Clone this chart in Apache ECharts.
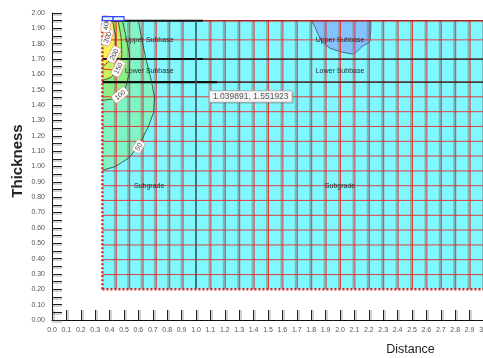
<!DOCTYPE html>
<html>
<head>
<meta charset="utf-8">
<script src="https://cdn.jsdelivr.net/npm/echarts@6/dist/echarts.min.js"></script>
<style>
  html, body { margin: 0; padding: 0; background: #fff; }
  #chart { width: 483px; height: 358px; }
</style>
</head>
<body>
<div id="chart"></div>
<script>
// Finite-element mesh: node columns (Distance) and node rows (Thickness)
const meshX = [0.35, 0.443, 0.536, 0.629, 0.721, 0.814, 0.907, 1.0, 1.1, 1.2, 1.3, 1.4, 1.5,
               1.6, 1.7, 1.8, 1.9, 2.0, 2.1, 2.2, 2.3, 2.4, 2.5, 2.6, 2.7, 2.8, 2.9, 3.0];
const meshY = [0.2, 0.296, 0.393, 0.489, 0.586, 0.682, 0.779, 0.875, 0.971, 1.068, 1.164,
               1.261, 1.357, 1.454, 1.55, 1.70, 1.825, 1.95];
// extra row of nodes in the lower subbase next to the load
const lowerSubbaseRow = [[0.35, 1.635], [0.47, 1.625]];

// Pavement layers
const layerNames  = ['Upper Subbase', 'Lower Subbase', 'Subgrade'];
const layerTop    = [1.95, 1.70, 1.55];
const layerBottom = [1.70, 1.55, 0.20];
const columnEdges = [0.35, 1.0, 3.0];

// Stress contours (each runs from the surface down to the left boundary)
const contourLevels = [50, 100, 150, 200, 300, 400];
const contour50  = [[0.60, 1.95], [0.625, 1.82], [0.655, 1.69], [0.69, 1.56], [0.712, 1.45], [0.705, 1.35],
                    [0.669, 1.26], [0.60, 1.13], [0.53, 1.053], [0.44, 1.0], [0.35, 0.975]];
const contour100 = [[0.49, 1.95], [0.515, 1.84], [0.54, 1.72], [0.535, 1.60], [0.51, 1.51],
                    [0.472, 1.466], [0.42, 1.44], [0.35, 1.43]];
const contour150 = [[0.46, 1.95], [0.48, 1.84], [0.485, 1.72], [0.46, 1.64], [0.41, 1.58], [0.35, 1.56]];
const contour200 = [[0.42, 1.95], [0.442, 1.85], [0.44, 1.77], [0.43, 1.73], [0.39, 1.68], [0.35, 1.65]];
const contour300 = [[0.385, 1.95], [0.392, 1.88], [0.384, 1.842], [0.37, 1.815], [0.35, 1.80]];
const contour400 = [[0.368, 1.95], [0.375, 1.928], [0.362, 1.905], [0.35, 1.895]];
const contours = [contour50, contour100, contour150, contour200, contour300, contour400];
const contourLabelAt = [[0.60, 1.13], [0.472, 1.466], [0.46, 1.64], [0.43, 1.73], [0.384, 1.842], [0.375, 1.928]];

// Low-stress pocket in the upper subbase
const upperPocket = [[1.803, 1.95], [1.826, 1.911], [1.849, 1.857], [1.884, 1.803], [1.931, 1.770],
                     [2.0, 1.748], [2.092, 1.731], [2.116, 1.748], [2.151, 1.780], [2.208, 1.813],
                     [2.213, 1.889], [2.215, 1.95]];

// Loaded strip on the surface
const loadStrips = [[0.35, 0.425], [0.425, 0.5]];

// Cursor readout
const cursorPoint = [1.039891, 1.551923];

const bandColors = ['#80f4c4', '#8cee86', '#c8f062', '#f4f45c', '#ffffc4', '#fffff0'];
const FONT = '"Liberation Sans", Arial, sans-serif';

function drawModel(params, api) {
  const c = p => api.coord(p);
  const kids = [];
  const seg = (a, b, style, dx) => {
    const p = c(a), q = c(b); dx = dx || 0;
    return { type: 'line', shape: { x1: p[0] + dx, y1: p[1], x2: q[0] + dx, y2: q[1] }, style: style };
  };
  const x0 = columnEdges[0], x1 = columnEdges[columnEdges.length - 1];
  const yBot = layerBottom[layerBottom.length - 1], yTop = layerTop[0];

  // model body
  kids.push({ type: 'polygon', shape: { points: [[x0, yBot], [x1, yBot], [x1, yTop], [x0, yTop]].map(c) },
              style: { fill: '#7ff9ff' } });
  // pocket in the upper subbase
  kids.push({ type: 'polygon', shape: { points: upperPocket.map(c) },
              style: { fill: '#82c2ff', stroke: '#3a4a70', lineWidth: 0.8 } });
  // contour bands, outermost first
  contours.forEach((pts, i) => {
    kids.push({ type: 'polygon', shape: { points: pts.concat([[x0, yTop]]).map(c) },
                style: { fill: bandColors[i] } });
  });

  // deformed mesh (grey) and undeformed mesh (red)
  meshX.forEach(x => {
    if (x === x0 || x === columnEdges[1]) return;
    kids.push(seg([x, yBot], [x, yTop], { stroke: 'rgba(120,120,120,0.5)', lineWidth: 2 }, -1));
  });
  meshX.forEach(x => {
    if (x === x0 || x === columnEdges[1]) return;
    kids.push(seg([x, yBot], [x, yTop], { stroke: 'rgba(238,40,40,0.9)', lineWidth: 1 }, 0.5));
  });
  meshY.forEach(y => {
    if (y === yBot) return;
    kids.push(seg([x0, y], [x1, y], { stroke: 'rgba(238,40,40,0.9)', lineWidth: 1 }));
  });
  kids.push(seg(lowerSubbaseRow[0], lowerSubbaseRow[1], { stroke: 'rgba(238,40,40,0.9)', lineWidth: 1 }));

  // layer and column boundaries
  kids.push(seg([x0, yTop], [1.05, yTop], { stroke: '#111', lineWidth: 2 }));
  kids.push(seg([1.05, yTop], [x1, yTop], { stroke: '#b82424', lineWidth: 1.5 }));
  kids.push(seg([x0, layerTop[1]], [1.05, layerTop[1]], { stroke: '#111', lineWidth: 2 }));
  kids.push(seg([1.05, layerTop[1]], [x1, layerTop[1]], { stroke: '#222', lineWidth: 1.2 }));
  kids.push(seg([x0, layerTop[2]], [1.15, layerTop[2]], { stroke: '#111', lineWidth: 2.2 }));
  kids.push(seg([1.15, layerTop[2]], [x1, layerTop[2]], { stroke: '#222', lineWidth: 1.2 }));
  kids.push(seg([columnEdges[1], yBot], [columnEdges[1], yTop], { stroke: '#3c5656', lineWidth: 1.6 }));

  // contour lines
  contours.forEach(pts => {
    kids.push({ type: 'polyline', shape: { points: pts.map(c) },
                style: { stroke: '#2a3a2a', lineWidth: 0.8, fill: null } });
  });

  // fixed boundary nodes
  kids.push(seg([x0, yBot], [x1, yBot], { stroke: '#e02424', lineWidth: 2.5, lineDash: [2, 2] }));
  kids.push(seg([x0, yBot], [x0, yTop], { stroke: '#e02424', lineWidth: 2.5, lineDash: [2, 2] }));

  // contour value labels, rotated along the line
  contours.forEach((pts, i) => {
    const at = contourLabelAt[i];
    let k = 0, best = Infinity;
    pts.forEach((p, j) => { const d = Math.hypot(p[0] - at[0], p[1] - at[1]); if (d < best) { best = d; k = j; } });
    const a = c(pts[Math.max(0, k - 1)]), b = c(pts[Math.min(pts.length - 1, k + 1)]);
    let ang = Math.atan2(-(b[1] - a[1]), b[0] - a[0]);
    if (ang > Math.PI / 2) ang -= Math.PI;
    if (ang < -Math.PI / 2) ang += Math.PI;
    const p = c(at);
    const txt = String(contourLevels[i]);
    const w = txt.length * 4.2 + 4;
    kids.push({
      type: 'group', x: p[0], y: p[1], rotation: ang,
      children: [
        { type: 'rect', shape: { x: -w / 2, y: -4.5, width: w, height: 9, r: 2 },
          style: { fill: '#ffffff', stroke: 'rgba(230,110,110,0.6)', lineWidth: 0.8 } },
        { type: 'text', style: { text: txt, x: 0, y: 0.5, align: 'center', verticalAlign: 'middle',
                                 fontSize: 7, fontFamily: FONT, fill: '#444' } }
      ]
    });
  });

  // layer names in the middle of each column
  for (let col = 0; col < columnEdges.length - 1; col++) {
    const xm = (columnEdges[col] + columnEdges[col + 1]) / 2;
    layerNames.forEach((name, i) => {
      const p = c([xm, (layerTop[i] + layerBottom[i]) / 2]);
      kids.push({ type: 'text', style: { text: name, x: p[0], y: p[1], align: 'center', verticalAlign: 'middle',
                                         fontSize: 7, fontFamily: FONT, fill: '#2a2a2a' } });
    });
  }

  // loaded strip above the surface
  loadStrips.forEach(s => {
    const a = c([s[0], yTop]), b = c([s[1], yTop]);
    kids.push({ type: 'rect', shape: { x: a[0], y: a[1] - 4, width: b[0] - a[0], height: 4 },
                style: { fill: '#eef0ff', stroke: '#3048ff', lineWidth: 1.2 } });
  });

  // cursor readout next to the picked point
  const pick = c(cursorPoint);
  const readout = cursorPoint.map(v => v.toFixed(6)).join(', ');
  kids.push({
    type: 'group', x: pick[0] + 7.5, y: pick[1] + 9,
    children: [
      { type: 'rect', shape: { x: 1.5, y: 1.5, width: 83, height: 11.5, r: 1 },
        style: { fill: 'rgba(0,0,0,0.16)' } },
      { type: 'rect', shape: { x: 0, y: 0, width: 83, height: 11.5, r: 1 },
        style: { fill: '#f6f6f6', stroke: '#9a9a9a', lineWidth: 0.8 } },
      { type: 'text', style: { text: readout, x: 41.5, y: 6, align: 'center', verticalAlign: 'middle',
                               fontSize: 8.5, fontFamily: FONT, fill: '#555' } }
    ]
  });

  return { type: 'group', children: kids };
}

const chart = echarts.init(document.getElementById('chart'), null, { renderer: 'canvas' });
chart.setOption({
  animation: false,
  backgroundColor: '#ffffff',
  grid: { left: 52, top: 13, width: 432, height: 307, containLabel: false, outerBoundsMode: 'none' },
  xAxis: {
    type: 'value', min: 0, max: 3, interval: 0.1,
    axisLine: { show: true, onZero: false, lineStyle: { color: '#111', width: 1 } },
    axisTick: { show: true, inside: true, length: 10,
                lineStyle: { color: '#222', width: 1, shadowColor: 'rgba(0,0,0,0.35)', shadowOffsetX: 1.5, shadowBlur: 0 } },
    axisLabel: { show: true, margin: 7, fontSize: 7, fontFamily: FONT, color: '#555',
                 formatter: v => v.toFixed(1), showMaxLabel: true, showMinLabel: true, hideOverlap: false },
    splitLine: { show: false }
  },
  yAxis: {
    type: 'value', min: 0, max: 2, interval: 0.1,
    axisLine: { show: true, onZero: false, lineStyle: { color: '#111', width: 1 } },
    axisTick: { show: true, inside: true, length: 10,
                lineStyle: { color: '#222', width: 1, shadowColor: 'rgba(0,0,0,0.35)', shadowOffsetY: 1.5, shadowBlur: 0 } },
    minorTick: { show: true, splitNumber: 2, length: 10,
                 lineStyle: { color: '#222', width: 1, shadowColor: 'rgba(0,0,0,0.35)', shadowOffsetY: 1.5, shadowBlur: 0 } },
    axisLabel: { show: true, margin: 7, fontSize: 7, fontFamily: FONT, color: '#555',
                 formatter: v => v.toFixed(2), hideOverlap: false },
    splitLine: { show: false }
  },
  series: [{
    type: 'custom', renderItem: drawModel, data: [[0, 0]], silent: true, clip: false
  }],
  graphic: [
    { id: 'yTitle', type: 'text', x: 18, y: 161, rotation: Math.PI / 2,
      style: { text: 'Thickness', align: 'center', verticalAlign: 'middle',
               fontSize: 15, fontWeight: 'bold', fontFamily: FONT, fill: '#222' } },
    { id: 'xTitle', type: 'text', x: 410.5, y: 350,
      style: { text: 'Distance', align: 'center', verticalAlign: 'middle',
               fontSize: 12.5, fontFamily: FONT, fill: '#222' } }
  ]
});
</script>
</body>
</html>
